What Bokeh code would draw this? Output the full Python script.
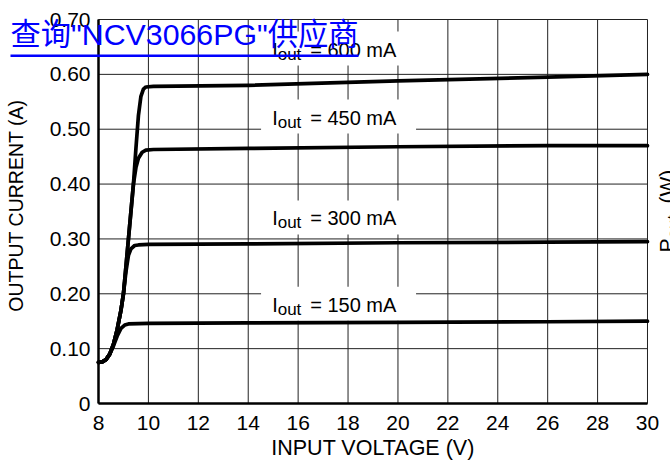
import math
from bokeh.plotting import figure
from bokeh.models import Range1d, FixedTicker, Label, BoxAnnotation
from bokeh.embed import file_html
from bokeh.resources import INLINE

# ---------------- data ----------------
v_150 = [8.0, 8.15, 8.3, 8.45, 8.6, 8.75, 8.9, 9.05, 9.2, 10.0, 14.0, 20.0, 26.0, 30.0]
i_150 = [0.075, 0.076, 0.080, 0.090, 0.105, 0.123, 0.137, 0.143, 0.145, 0.146, 0.147, 0.148, 0.149, 0.150]

v_300 = [8.0, 8.15, 8.3, 8.45, 8.6, 8.75, 8.9, 9.0, 9.1, 9.2, 9.3, 9.45, 9.6, 10.0, 14.0, 20.0, 26.0, 30.0]
i_300 = [0.075, 0.076, 0.080, 0.090, 0.108, 0.135, 0.170, 0.200, 0.240, 0.270, 0.282, 0.288, 0.289, 0.290, 0.291, 0.293, 0.294, 0.295]

v_450 = [8.0, 8.15, 8.3, 8.45, 8.6, 8.75, 8.9, 9.0, 9.1, 9.2, 9.3, 9.4, 9.5, 9.6, 9.75, 9.9, 10.2, 14.0, 20.0, 26.0, 30.0]
i_450 = [0.075, 0.076, 0.080, 0.090, 0.108, 0.135, 0.170, 0.200, 0.250, 0.300, 0.350, 0.400, 0.430, 0.447, 0.458, 0.462, 0.463, 0.465, 0.468, 0.470, 0.470]

v_600 = [8.0, 8.15, 8.3, 8.45, 8.6, 8.75, 8.9, 9.0, 9.1, 9.2, 9.3, 9.4, 9.5, 9.6, 9.7, 9.8, 9.9, 10.2, 14.0, 20.0, 26.0, 30.0]
i_600 = [0.075, 0.076, 0.080, 0.090, 0.108, 0.135, 0.170, 0.200, 0.250, 0.300, 0.350, 0.400, 0.465, 0.525, 0.560, 0.573, 0.577, 0.578, 0.580, 0.588, 0.595, 0.600]

series_v = [v_150, v_300, v_450, v_600]
series_i = [i_150, i_300, i_450, i_600]
series_labels = ["150", "300", "450", "600"]

x_ticks = [8, 10, 12, 14, 16, 18, 20, 22, 24, 26, 28, 30]
x_tick_labels = ["8", "10", "12", "14", "16", "18", "20", "22", "24", "26", "28", "30"]
y_ticks = [0, 0.1, 0.2, 0.3, 0.4, 0.5, 0.6, 0.7]
y_tick_labels = ["0", "0.10", "0.20", "0.30", "0.40", "0.50", "0.60", "0.70"]

x_title = "INPUT VOLTAGE (V)"
y_title = "OUTPUT CURRENT (A)"
link_text = '查询"NCV3066PG"供应商'

# ---------------- layout / style ----------------
FONT = "Liberation Sans"
W, H = 670, 466
# plot box: x 8..30 V, y 0..0.7 A; the frame spans the whole canvas so that
# texts outside the box (titles, link overlay) are not clipped
X_MIN, X_MAX = x_ticks[0], x_ticks[-1]
Y_MIN, Y_MAX = y_ticks[0], y_ticks[-1]
X0, X1 = 4.0729, 30.9217
Y0, Y1 = -0.11484, 0.73464


def lift(fs):
    """baseline correction (px) for alphabetic labels of font size fs"""
    return 0.38 * fs


p = figure(width=W, height=H, output_backend="svg", toolbar_location=None,
           x_range=Range1d(X0, X1), y_range=Range1d(Y0, Y1),
           min_border_left=0, min_border_right=0, min_border_top=0,
           min_border_bottom=0)
p.background_fill_color = "white"
p.border_fill_color = "white"
p.outline_line_color = None
p.xgrid.visible = False
p.ygrid.visible = False

xa, ya = p.xaxis[0], p.yaxis[0]
xa.fixed_location = Y_MIN
ya.fixed_location = X_MIN
xa.bounds = (X_MIN, X_MAX)
ya.bounds = (Y_MIN, Y_MAX)
for ax in (xa, ya):
    ax.axis_line_color = "black"
    ax.axis_line_width = 2.5
    ax.major_tick_in = 0
    ax.major_tick_out = 0
    ax.minor_tick_line_color = None
    ax.major_label_text_font = FONT
    ax.major_label_text_font_size = "21px"
    ax.major_label_text_color = "black"

xa.ticker = FixedTicker(ticks=x_ticks)
xa.major_label_overrides = {t: l for t, l in zip(x_ticks, x_tick_labels)}
xa.major_label_standoff = 12
ya.ticker = FixedTicker(ticks=y_ticks)
ya.major_label_overrides = {t: l for t, l in zip(y_ticks, y_tick_labels)}
ya.major_label_standoff = 8

# grid (also forms the thin top and right border of the box)
p.segment(x0=x_ticks, y0=[Y_MIN] * len(x_ticks), x1=x_ticks, y1=[Y_MAX] * len(x_ticks),
          line_color="#222222", line_width=1)
p.segment(x0=[X_MIN] * len(y_ticks), y0=y_ticks, x1=[X_MAX] * len(y_ticks), y1=y_ticks,
          line_color="#222222", line_width=1)

# white boxes behind the curve labels (covering the grid)
label_x = 14.96                      # left of "I"
label_base_y = [0.1659, 0.3245, 0.5067, 0.6307]
box_x = 17.62
box_y = [0.182, 0.339, 0.523, 0.647]
p.rect(x=[box_x] * 4, y=box_y, width=155, height=34, width_units="screen",
       height_units="screen", fill_color="white", line_color=None)

for vv, ii in zip(series_v, series_i):
    p.line(vv, ii, line_width=3.7, line_color="black", line_join="round", line_cap="round")

for name, by in zip(series_labels, label_base_y):
    p.add_layout(Label(x=label_x, y=by, y_offset=lift(20), text="I", text_font=FONT,
                       text_font_size="20px", text_color="black", text_baseline="alphabetic"))
    p.add_layout(Label(x=label_x, y=by, x_offset=5.5, y_offset=lift(17) - 3.3, text="out",
                       text_font=FONT, text_font_size="17px", text_color="black",
                       text_baseline="alphabetic"))
    p.add_layout(Label(x=label_x, y=by, x_offset=38, y_offset=lift(20),
                       text="= %s mA" % name, text_font=FONT, text_font_size="20px",
                       text_color="black", text_baseline="alphabetic"))

# axis titles
p.add_layout(Label(x=(X_MIN + X_MAX) / 2, y=-0.0957, y_offset=lift(21.5), text=x_title,
                   text_align="center", text_baseline="alphabetic", text_font=FONT,
                   text_font_size="21.5px", text_color="black"))
p.add_layout(Label(x=4.9745, y=0.361, x_offset=-lift(19.5), text=y_title, angle=math.pi / 2,
                   text_align="center", text_baseline="alphabetic", text_font=FONT,
                   text_font_size="19.5px", text_color="black"))

# right-hand title (mostly outside the window, as in the reference)
PX = 31.082
p.add_layout(Label(x=PX, y=0.2753, x_offset=-lift(21), text="P", angle=math.pi / 2,
                   text_font=FONT, text_font_size="21px", text_color="black",
                   text_baseline="alphabetic"))
p.add_layout(Label(x=PX, y=0.3008, x_offset=5.3 - lift(17), text="out", angle=math.pi / 2,
                   text_font=FONT, text_font_size="17px", text_color="black",
                   text_baseline="alphabetic"))
p.add_layout(Label(x=PX, y=0.3646, x_offset=-lift(21), text="(W)", angle=math.pi / 2,
                   text_font=FONT, text_font_size="21px", text_color="black",
                   text_baseline="alphabetic"))

# blue link overlay
LINK_X, LINK_Y = 4.4737, 0.6526
p.add_layout(Label(x=LINK_X, y=LINK_Y, y_offset=lift(30), text=link_text,
                   text_color="#0000ff",
                   text_font='"Liberation Sans", "Noto Sans CJK SC"',
                   text_font_size="30.3px", text_baseline="alphabetic"))
p.add_layout(BoxAnnotation(left=LINK_X, right=18.419, bottom=0.6316, top=0.6362,
                           fill_color="#0000ff", fill_alpha=1.0, line_color=None,
                           level="overlay"))

open("out.html", "w").write(file_html(p, INLINE))
